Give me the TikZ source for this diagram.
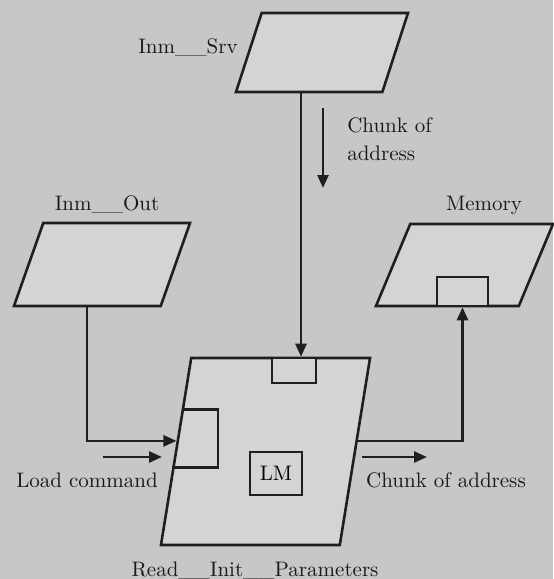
\documentclass[tikz,border=0pt]{standalone}
\usepackage{xcolor}
\usepackage{tikz}
\usetikzlibrary{arrows.meta,positioning,calc,shapes.geometric}

\begin{document}
\begin{tikzpicture}[
  x=0.5pt, y=-0.5pt,
  line width=1.3pt,
  para/.style={draw=black!88, fill=black!17, trapezium, trapezium stretches=true, inner sep=1pt},
  slot/.style={draw=black!88, fill=black!17, rectangle, inner sep=0pt},
  lbl/.style={font=\fontsize{10.5}{14}\selectfont, text=black!90, inner sep=1pt},
  arrow/.style={-{Triangle[length=6.5pt,width=5.5pt]}, draw=black!88}
]
\fill[black!22] (0,0) rectangle (553,579);
\useasboundingbox (0,0) rectangle (553,579);

% the four data areas
\node[para, trapezium left angle=78, trapezium right angle=102, minimum width=86pt, minimum height=39.5pt] (srv) at (322,52.5) {};
\node[para, trapezium left angle=76, trapezium right angle=104, minimum width=88pt, minimum height=41.5pt] (out) at (102,264.5) {};
\node[para, trapezium left angle=72.5, trapezium right angle=107.5, minimum width=88.5pt, minimum height=41pt] (mem) at (464.5,265) {};
\node[para, trapezium left angle=78.5, trapezium right angle=101.5, minimum width=104.5pt, minimum height=93.5pt] (main) at (265.5,451.5) {};

\node[slot, minimum width=25.5pt, minimum height=14.5pt] (memslot) at (462.5,291.5) {};
\node[slot, minimum width=22pt, minimum height=12.5pt] (topslot) at (294,370.5) {};
\node[slot, minimum width=26pt, minimum height=21.5pt, font=\fontsize{10.5}{12}\selectfont] (lm) at (276,473.5) {LM};

% slot on the left side of the main area
\coordinate (ls1) at ($(main.bottom left corner)!0.722!(main.top left corner)$);
\coordinate (ls2) at ($(main.bottom left corner)!0.417!(main.top left corner)$);
\coordinate (lsx) at (218,0);
\draw[draw=black!88] (ls1) -- (ls1 -| lsx) -- (ls2 -| lsx) -- (ls2);

% labels
\node[lbl] (srvlbl) at (188,48) {Inm\_\_Srv};
\node[lbl] (outlbl) at (107,205) {Inm\_\_Out};
\node[lbl] (memlbl) at (484,205) {Memory};
\node[lbl] (mainlbl) at (255,571) {Read\_\_Init\_\_Parameters};
\node[lbl] (loadlbl) at (87,480) {Load command};
\node[lbl] (addrlbl) at (446,480) {Chunk of address};
\node[lbl, align=left, anchor=west] (chunklbl) at (344,139) {Chunk of\\address};

% connectors
\coordinate (lin) at ($(main.bottom left corner)!0.556!(main.top left corner)$);
\coordinate (rout) at ($(main.bottom right corner)!0.556!(main.top right corner)$);
\draw[arrow] ([xshift=-10.5pt]srv.south) -- ([xshift=-10.5pt]srv.south |- main.north);
\draw[arrow] ([xshift=-7.5pt]out.south) |- (lin);
\draw[arrow] (rout) -| (memslot.south);

% direction marks
\coordinate (ld1) at (103,457);
\coordinate (ld2) at (162,457);
\coordinate (ad1) at (362,457);
\coordinate (ad2) at (427,457);
\coordinate (cd1) at (323,108);
\coordinate (cd2) at (323,188);
\draw[arrow] (ld1) -- (ld2);
\draw[arrow] (ad1) -- (ad2);
\draw[arrow] (cd1) -- (cd2);
\end{tikzpicture}
\end{document}
